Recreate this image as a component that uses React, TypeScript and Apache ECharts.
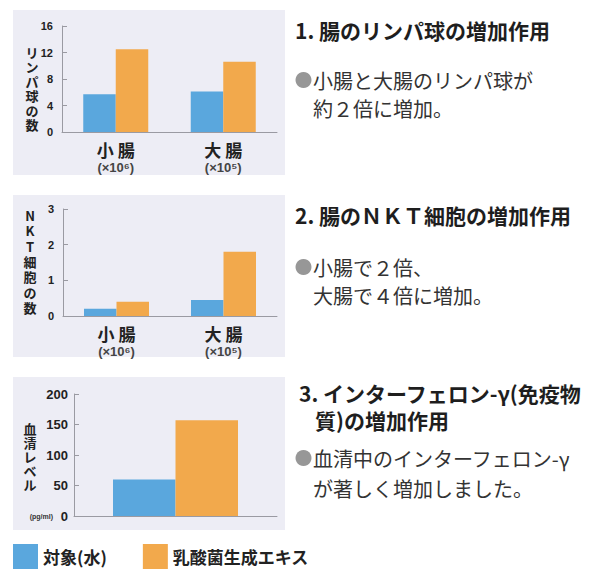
import React, { useEffect, useRef } from "react";
import * as echarts from "echarts";

const categories = ["小 腸", "大 腸"];
const categoryUnits = ["(×10⁶)", "(×10⁵)"];
const seriesNames = ["対象(水)", "乳酸菌生成エキス"];
const lymphControl = [5.7, 6.1];
const lymphLactic = [12.5, 10.6];
const nktControl = [0.2, 0.45];
const nktLactic = [0.4, 1.8];
const ifnCategories = [""];
const ifnControl = [60];
const ifnLactic = [157];

const yNames = ["リンパ球の数", "NKT細胞の数", "血清レベル"];
const titles = [
  ["1. 腸のリンパ球の増加作用"],
  ["2. 腸のＮＫＴ細胞の増加作用"],
  ["3. インターフェロン-γ(免疫物", "質)の増加作用"],
];
const bodies = [
  ["小腸と大腸のリンパ球が", "約２倍に増加。"],
  ["小腸で２倍、", "大腸で４倍に増加。"],
  ["血清中のインターフェロン-γ", "が著しく増加しました。"],
];

const BLUE = "#5aa7dd";
const ORANGE = "#f2a94c";
const PANEL = "#ededf5";
const CJK = "'Noto Sans CJK JP', sans-serif";
const NUM = "'Liberation Sans', 'Noto Sans CJK JP', sans-serif";

export default function App() {
  const ref = useRef<HTMLDivElement>(null);
  useEffect(() => {
    if (!ref.current) return;
    const chart = echarts.init(ref.current, undefined, { renderer: "svg" });

    const catLabel = {
      interval: 0,
      margin: 7,
      formatter: (v: string) => {
        const i = categories.indexOf(v);
        return `{a|${v}}\n{b|${categoryUnits[i]}}`;
      },
      rich: {
        a: { fontSize: 17, fontWeight: "bold", fontFamily: CJK, color: "#222", lineHeight: 21 },
        b: { fontSize: 13, fontWeight: "bold", fontFamily: NUM, color: "#444", lineHeight: 14 },
      },
    };
    const xBase = (gridIndex: number, data: string[], showLabel: boolean) => ({
      type: "category",
      gridIndex,
      data,
      axisLine: { lineStyle: { color: "#9a9aa2", width: 1 } },
      axisTick: { show: false },
      axisLabel: showLabel ? catLabel : { show: false },
    });
    const yBase = (gridIndex: number, max: number, interval: number, fontSize: number, margin: number) => ({
      type: "value",
      gridIndex,
      min: 0,
      max,
      interval,
      splitLine: { show: false },
      axisLine: { show: true, lineStyle: { color: "#9a9aa2", width: 1 } },
      axisTick: { show: true, inside: true, length: 5, lineStyle: { color: "#9a9aa2" } },
      axisLabel: { fontSize, fontWeight: "bold", fontFamily: NUM, color: "#222", margin },
    });

    const bar = (name: string, data: number[], idx: number, color: string, width: number) => ({
      type: "bar",
      name,
      data,
      xAxisIndex: idx,
      yAxisIndex: idx,
      barWidth: width,
      barGap: "0%",
      itemStyle: { color },
      z: 2,
    });

    const graphics: any[] = [];
    const panels = [
      [13, 10, 272, 165],
      [13, 195, 272, 162],
      [13, 377, 272, 153],
    ];
    panels.forEach(([x, y, w, h]) =>
      graphics.push({ type: "rect", z: -10, shape: { x, y, width: w, height: h }, style: { fill: PANEL } })
    );
    const yNamePos = [
      [32, 52, 14.5],
      [30, 215.5, 15.3],
      [30, 428, 14.2],
    ];
    yNames.forEach((n, i) => {
      const [x, y, lh] = yNamePos[i];
      Array.from(n).forEach((ch, k) =>
        graphics.push({
          type: "text",
          x,
          y: y + k * lh,
          style: {
            text: ch,
            fontSize: 13,
            fontWeight: "bold",
            fontFamily: CJK,
            fill: "#222",
            align: "center",
            verticalAlign: "middle",
          },
        })
      );
    });
    graphics.push({
      type: "text",
      x: 53,
      y: 516,
      style: { text: "(pg/ml)", fontSize: 7, fontWeight: "bold", fontFamily: NUM, fill: "#333", align: "right", verticalAlign: "middle" },
    });

    const titlePos = [
      [[295, 30]],
      [[295, 215]],
      [[299, 393], [315, 420]],
    ];
    titles.forEach((lines, i) =>
      lines.forEach((t, j) =>
        graphics.push({
          type: "text",
          x: titlePos[i][j][0],
          y: titlePos[i][j][1],
          style: { text: t, fontSize: 21, fontWeight: "bold", fontFamily: CJK, fill: "#1e1e1e", align: "left", verticalAlign: "middle" },
        })
      )
    );
    const bodyPos = [
      [80, 108],
      [267, 295],
      [458, 488],
    ];
    bodies.forEach((lines, i) => {
      graphics.push({ type: "circle", shape: { cx: 303.5, cy: bodyPos[i][0], r: 8 }, style: { fill: "#979797" } });
      lines.forEach((t, j) =>
        graphics.push({
          type: "text",
          x: 313,
          y: bodyPos[i][j],
          style: { text: t, fontSize: 20, fontFamily: CJK, fill: "#333", align: "left", verticalAlign: "middle" },
        })
      );
    });

    chart.setOption({
      animation: false,
      backgroundColor: "#ffffff",
      textStyle: { fontFamily: CJK },
      grid: [
        { left: 62, top: 26, width: 215, height: 106 },
        { left: 63, top: 209, width: 214, height: 107 },
        { left: 74, top: 394, width: 203, height: 122 },
      ],
      xAxis: [xBase(0, categories, true), xBase(1, categories, true), xBase(2, ifnCategories, false)],
      yAxis: [yBase(0, 16, 4, 11, 9), yBase(1, 3, 1, 11, 9), yBase(2, 200, 50, 13, 6)],
      legend: {
        left: 13,
        top: 544,
        padding: 0,
        icon: "rect",
        itemWidth: 25,
        itemHeight: 25,
        itemGap: 36,
        selectedMode: false,
        data: seriesNames,
        textStyle: { fontSize: 17, fontWeight: "bold", fontFamily: CJK, color: "#222", lineHeight: 20 },
      },
      series: [
        bar(seriesNames[0], lymphControl, 0, BLUE, 32.5),
        bar(seriesNames[1], lymphLactic, 0, ORANGE, 32.5),
        bar(seriesNames[0], nktControl, 1, BLUE, 32.5),
        bar(seriesNames[1], nktLactic, 1, ORANGE, 32.5),
        bar(seriesNames[0], ifnControl, 2, BLUE, 62.5),
        bar(seriesNames[1], ifnLactic, 2, ORANGE, 62.5),
      ],
      graphic: graphics,
    });
    return () => chart.dispose();
  }, []);
  return <div ref={ref} style={{ position: "fixed", left: 0, top: 0, width: 590, height: 569 }} />;
}
